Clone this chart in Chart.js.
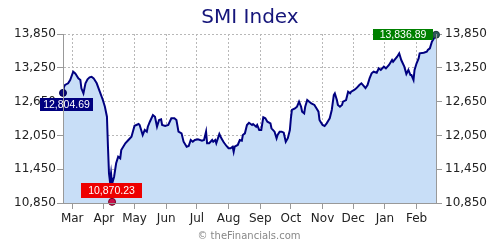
<!DOCTYPE html>
<html>
<head>
<meta charset="utf-8">
<script src="https://cdn.jsdelivr.net/npm/chart.js@4.4.1/dist/chart.umd.min.js"></script>
<style>
  html, body { margin: 0; padding: 0; background: #fff; }
  #wrap { width: 500px; height: 250px; }
</style>
</head>
<body>
<div id="wrap"><canvas id="chart" width="500" height="250"></canvas></div>
<script>
// days counted from Feb 20 (start of the year shown)
const DAYS = [0, 1, 2, 5, 7, 10, 12, 13, 15, 17, 18, 20, 22, 24, 26, 28, 30, 33, 36, 39,
  41, 43, 44, 45, 46, 47, 48, 50, 52, 54, 56, 57, 61, 64, 67, 70, 74, 75, 78, 80,
  82, 83, 85, 88, 90, 92, 94, 96, 97, 100, 103, 106, 109, 111, 113, 116, 118, 121, 123, 125,
  127, 129, 132, 136, 138, 140, 141, 143, 146, 147, 149, 150, 153, 155, 157, 158, 160, 162, 164, 166,
  167, 168, 171, 173, 175, 176, 178, 180, 182, 185, 186, 189, 190, 192, 194, 196, 198, 200, 203, 204,
  207, 209, 210, 212, 214, 216, 218, 220, 222, 223, 224, 227, 229, 231, 233, 234, 236, 237, 239, 241,
  243, 246, 248, 250, 251, 252, 254, 256, 258, 260, 261, 263, 265, 266, 268, 269, 271, 273, 274, 277,
  279, 281, 282, 285, 287, 290, 292, 294, 296, 298, 300, 302, 304, 307, 309, 311, 314, 316, 319, 322,
  323, 327, 329, 331, 334, 336, 338, 340, 341, 343, 344, 346, 348, 349, 353, 356, 357, 359, 361, 363, 365];

const CLOSES = [12804.69, 12914, 12945, 12975, 13033, 13180, 13150, 13122, 13063, 13033, 12886, 12797, 12975, 13046, 13081, 13090, 13063, 12975, 12826, 12678,
  12559, 12382, 11849, 11377, 11228, 11377, 11190, 11317, 11555, 11672, 11643, 11790, 11910, 11968, 12027, 12220, 12252, 12235, 12057, 12146,
  12116, 12204, 12293, 12412, 12382, 12204, 12323, 12335, 12235, 12217, 12235, 12353, 12353, 12323, 12116, 12087, 11938, 11849, 11862, 11968,
  11938, 11968, 11980, 11956, 11968, 12116, 11910, 11910, 11968, 11938, 11968, 11910, 12075, 11998, 11938, 11910, 11862, 11821, 11821, 11849,
  11760, 11849, 11880, 11968, 11956, 12057, 12087, 12235, 12275, 12235, 12252, 12204, 12235, 12146, 12146, 12371, 12353, 12293, 12264, 12176,
  12116, 11998, 12057, 12116, 12116, 12098, 11938, 12000, 12146, 12353, 12501, 12531, 12559, 12648, 12559, 12471, 12442, 12559, 12678, 12648,
  12620, 12590, 12531, 12471, 12323, 12293, 12235, 12217, 12264, 12323, 12353, 12501, 12767, 12797, 12678, 12590, 12559, 12590, 12648, 12678,
  12826, 12797, 12826, 12856, 12886, 12945, 12975, 12935, 12890, 12945, 13063, 13152, 13181, 13163, 13240, 13211, 13270, 13240, 13300, 13388,
  13358, 13447, 13507, 13388, 13270, 13140, 13211, 13122, 13122, 13033, 13211, 13330, 13418, 13507, 13518, 13536, 13566, 13596, 13714, 13773, 13836.89];

const MONTH_DAYS = [9, 40, 70, 101, 131, 162, 193, 223, 254, 284, 315, 346];
const MONTH_LABELS = ["Mar", "Apr", "May", "Jun", "Jul", "Aug", "Sep", "Oct", "Nov", "Dec", "Jan", "Feb"];
const Y_TICKS = [10850, 11450, 12050, 12650, 13250, 13850];

// first, lowest, last
const MARK_DAYS = [0, 48, 365];
const MARK_VALUES = [12804.69, 10870.23, 13836.89];

const fmt = (v) => v.toLocaleString("en-US");
const fmt2 = (v) => v.toLocaleString("en-US", { minimumFractionDigits: 2, maximumFractionDigits: 2 });

const labelBoxes = [
  { color: "#00007f", dx: -23, dy: 5, w: 53, h: 13 },
  { color: "#ee0000", dx: -31, dy: -19, w: 61, h: 15 },
  { color: "#008000", dx: -63, dy: -6, w: 60, h: 11 },
];

const markerLabels = {
  id: "markerLabels",
  afterDatasetsDraw(chart) {
    const { ctx } = chart;
    const meta = chart.getDatasetMeta(1);
    ctx.save();
    ctx.font = "10.5px 'Liberation Sans', Arial, sans-serif";
    ctx.textAlign = "center";
    ctx.textBaseline = "middle";
    meta.data.forEach((pt, i) => {
      const b = labelBoxes[i];
      const x = Math.round(pt.x + b.dx);
      const y = Math.round(pt.y + b.dy);
      ctx.fillStyle = b.color;
      ctx.fillRect(x, y, b.w, b.h);
      ctx.fillStyle = "#fff";
      ctx.fillText(fmt2(MARK_VALUES[i]), x + b.w / 2, y + b.h / 2 + 0.5);
    });
    ctx.restore();
  },
  afterDraw(chart) {
    const { ctx } = chart;
    ctx.save();
    ctx.font = "10px 'DejaVu Sans', sans-serif";
    ctx.fillStyle = "#888";
    ctx.textAlign = "center";
    ctx.textBaseline = "middle";
    ctx.fillText("\u00a9 theFinancials.com", 249, 236);
    ctx.restore();
  },
};

const tickFont = { family: "'DejaVu Sans', Verdana, sans-serif", size: 12 };

function yAxis(position) {
  return {
    type: "linear",
    position: position,
    min: 10850,
    max: 13850,
    afterBuildTicks: (scale) => {
      scale.ticks = Y_TICKS.map((v) => ({ value: v }));
    },
    afterFit: (scale) => {
      scale.width = position === "left" ? 63 : 64;
    },
    ticks: {
      font: tickFont,
      color: "#222",
      padding: position === "left" ? 1 : 3,
      callback: (v) => fmt(v),
    },
    grid: {
      color: "#b8b8b8",
      drawOnChartArea: position === "left",
      tickColor: "#999",
      tickLength: 6,
    },
    border: { display: true, color: "#999", dash: [2, 2], z: 1 },
  };
}

new Chart(document.getElementById("chart"), {
  type: "line",
  data: {
    datasets: [
      {
        label: "SMI",
        data: DAYS.map((d, i) => ({ x: d, y: CLOSES[i] })),
        borderColor: "#000080",
        borderWidth: 2,
        backgroundColor: "#c8def7",
        fill: "start",
        pointRadius: 0,
        tension: 0,
        yAxisID: "y",
        order: 2,
      },
      {
        label: "marks",
        data: MARK_DAYS.map((d, i) => ({ x: d, y: MARK_VALUES[i] })),
        showLine: false,
        pointRadius: 3.5,
        pointBackgroundColor: ["#0a0a7a", "#c8104a", "#2f5a5a"],
        pointBorderColor: ["#000050", "#700020", "#1a3535"],
        pointBorderWidth: 1,
        yAxisID: "y",
        clip: false,
        order: 1,
      },
    ],
  },
  options: {
    responsive: false,
    animation: false,
    devicePixelRatio: 1,
    layout: { padding: 0 },
    scales: {
      x: {
        type: "linear",
        position: "bottom",
        min: 0,
        max: 365,
        afterBuildTicks: (scale) => {
          scale.ticks = MONTH_DAYS.map((v) => ({ value: v }));
        },
        afterFit: (scale) => {
          scale.height = 47;
        },
        ticks: {
          font: tickFont,
          color: "#222",
          padding: 3,
          autoSkip: false,
          maxRotation: 0,
          callback: (v) => MONTH_LABELS[MONTH_DAYS.indexOf(v)],
        },
        grid: {
          color: "#b8b8b8",
          tickColor: "#999",
          tickLength: 6,
        },
        border: { display: true, color: "#999", dash: [2, 2], z: 1 },
      },
      y: yAxis("left"),
      y2: yAxis("right"),
    },
    plugins: {
      legend: { display: false },
      tooltip: { enabled: false },
      title: {
        display: true,
        text: "SMI Index",
        color: "#15157a",
        font: { family: "'DejaVu Sans', Verdana, sans-serif", size: 20, weight: "normal", lineHeight: 1.2 },
        padding: { top: 6, bottom: 4 },
      },
    },
  },
  plugins: [markerLabels],
});
</script>
</body>
</html>
